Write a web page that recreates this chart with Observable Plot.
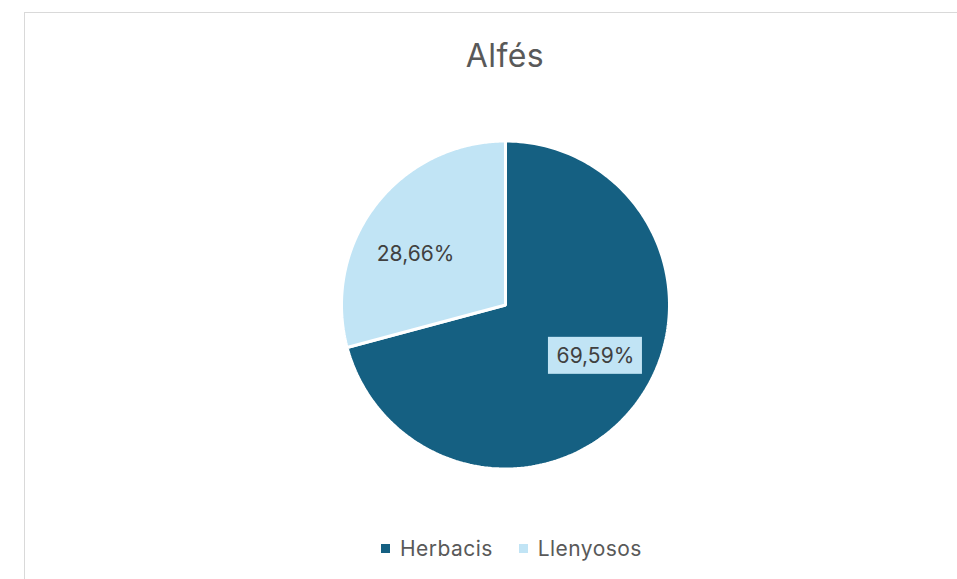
<!DOCTYPE html>
<html>
<head>
<meta charset="utf-8">
<script src="https://cdn.jsdelivr.net/npm/d3@7"></script>
<script src="https://cdn.jsdelivr.net/npm/@observablehq/plot@0.6"></script>
<style>
  html, body { margin: 0; padding: 0; background: #fff; }
  #wrap { position: relative; width: 957px; height: 579px; overflow: hidden; font-family: Inter, "Liberation Sans", sans-serif; }
  #frame { position: absolute; left: 24px; top: 12px; right: -5px; bottom: -5px; border-top: 1.5px solid #d9d9d9; border-left: 1.5px solid #d9d9d9; }
  #title { position: absolute; left: 0; width: 1010px; top: 36px; text-align: center; font-size: 32px; letter-spacing: 0.4px; color: #595959; }
  #chart { position: absolute; left: 0; top: 0; }
  #legend { position: absolute; left: 381px; top: 536px; display: flex; align-items: center; font-size: 21px; letter-spacing: 0.45px; color: #595959; }
  .item { display: flex; align-items: center; margin-right: 26px; }
  .sw { width: 9px; height: 9px; margin-right: 10px; }
</style>
</head>
<body>
<div id="wrap">
  <div id="frame"></div>
  <div id="chart"></div>
  <div id="title">Alfés</div>
  <div id="legend"></div>
</div>
<script>
const title = "Alfés";
const categories = ["Herbacis", "Llenyosos"];
const values = [69.59, 28.66];
const labels = ["69,59%", "28,66%"];
const colors = ["#156082", "#c1e4f5"];

const arcs = d3.pie().sort(null)(values);
const slicePts = [];
arcs.forEach((a, i) => {
  const cat = categories[i];
  slicePts.push({cat, x: 0, y: 0});
  const n = 200;
  for (let k = 0; k <= n; k++) {
    const t = a.startAngle + (a.endAngle - a.startAngle) * k / n;
    slicePts.push({cat, x: Math.sin(t), y: Math.cos(t)});
  }
});
const labelData = arcs.map((a, i) => {
  const m = (a.startAngle + a.endAngle) / 2 - 0.14;
  return {cat: categories[i], label: labels[i], x: 0.63 * Math.sin(m), y: 0.63 * Math.cos(m), boxed: i === 0};
});

// pixel geometry: centre (505, 304.5), radius 164 px
const R = 164, W = 957, H = 579, cx = 505, cy = 304.5;
const bw = 94 / R, bh = 37 / R;

const chart = Plot.plot({
  width: W, height: H,
  margin: 0,
  x: {domain: [-cx / R, (W - cx) / R], range: [0, W], axis: null},
  y: {domain: [-(H - cy) / R, cy / R], range: [H, 0], axis: null},
  color: {domain: categories, range: colors},
  style: {background: "transparent", overflow: "visible"},
  marks: [
    Plot.line(slicePts, {x: "x", y: "y", z: "cat", fill: "cat", stroke: "white", strokeWidth: 3, strokeLinejoin: "miter", curve: "linear-closed"}),
    Plot.rect(labelData.filter(d => d.boxed), {x1: d => d.x - bw / 2, x2: d => d.x + bw / 2, y1: d => d.y - bh / 2, y2: d => d.y + bh / 2, fill: colors[1]}),
    Plot.text(labelData, {x: "x", y: "y", text: "label", fill: "#404040", fontSize: 21, fontFamily: "Inter, 'Liberation Sans', sans-serif"})
  ]
});
document.getElementById("chart").appendChild(chart);
document.getElementById("title").textContent = title;

const leg = document.getElementById("legend");
categories.forEach((c, i) => {
  const it = document.createElement("div");
  it.className = "item";
  const sw = document.createElement("div");
  sw.className = "sw";
  sw.style.background = colors[i];
  const tx = document.createElement("span");
  tx.textContent = c;
  it.appendChild(sw); it.appendChild(tx);
  leg.appendChild(it);
});
</script>
</body>
</html>
